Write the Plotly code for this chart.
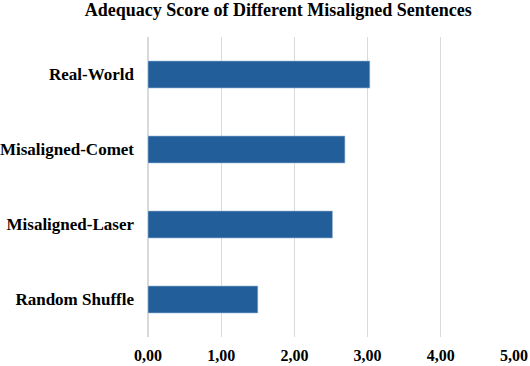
import plotly.graph_objects as go

categories = ["Real-World", "Misaligned-Comet", "Misaligned-Laser", "Random Shuffle"]
scores = [3.03, 2.69, 2.52, 1.50]

fig = go.Figure(
    go.Bar(
        y=categories,
        x=scores,
        orientation="h",
        width=0.36,
        marker=dict(color="#225E9A", line=dict(color="#9fb8d6", width=0.6)),
    )
)

fig.update_layout(
    width=530,
    height=366,
    plot_bgcolor="white",
    paper_bgcolor="white",
    showlegend=False,
    separators=",.",
    margin=dict(l=148, r=16, t=37, b=29),
    font=dict(family="Liberation Serif", color="black"),
    title=dict(
        text="<b>Adequacy Score of Different Misaligned Sentences</b>",
        x=0.525,
        xanchor="center",
        y=1,
        yanchor="top",
        pad=dict(t=3, b=0),
        font=dict(size=18, family="Liberation Serif", color="black"),
    ),
)
fig.update_xaxes(
    range=[0, 5],
    dtick=1,
    tickformat=".2f",
    showgrid=True,
    gridcolor="#d9d9d9",
    gridwidth=1,
    zeroline=True,
    zerolinecolor="#d9d9d9",
    showline=False,
    automargin=False,
    tickfont=dict(size=16, family="Liberation Serif", color="black", weight="bold"),
    ticklabelstandoff=7,
)
fig.update_yaxes(
    autorange="reversed",
    showgrid=False,
    showline=False,
    automargin=False,
    tickfont=dict(size=17, family="Liberation Serif", color="black", weight="bold"),
    ticklabelstandoff=13,
)

# drop the browser's default 8px body margin so the figure fills the window
fig.write_html(
    "out.html",
    config={"displayModeBar": False},
    post_script="document.body.style.margin='0';",
)
